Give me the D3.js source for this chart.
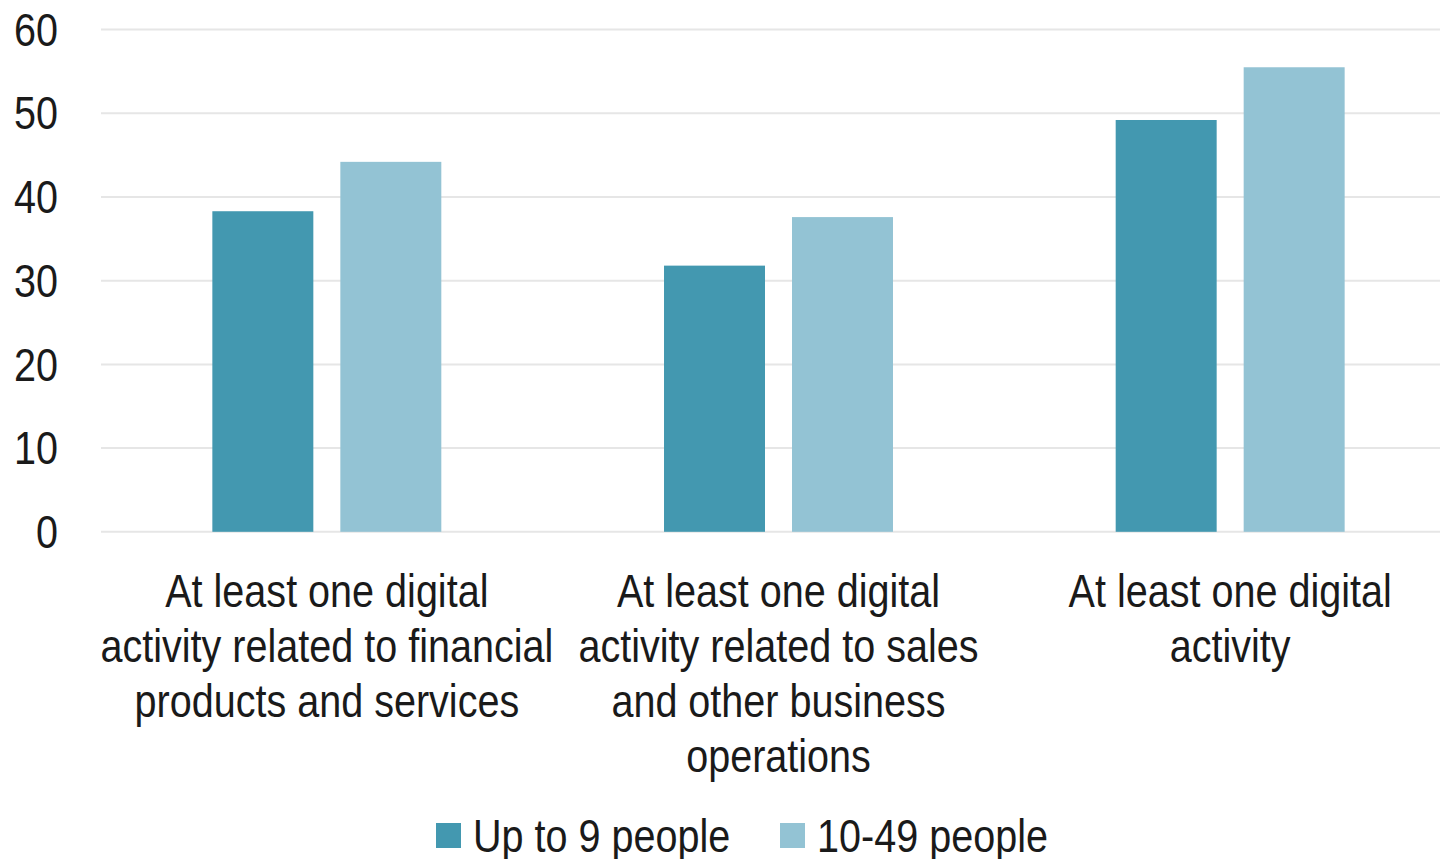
<!DOCTYPE html>
<html>
<head>
<meta charset="utf-8">
<script src="https://cdn.jsdelivr.net/npm/d3@7"></script>
<style>
  body { margin: 0; background: #fff; }
  svg text { font-family: "Liberation Sans Narrow", "Arial Narrow", "Liberation Sans", Arial, sans-serif; fill: #1a1a1a; }
</style>
</head>
<body>
<div id="chart"></div>
<script>
// data
const categories = ["financial", "sales", "any"];
const categoryLines = [
  ["At least one digital", "activity related to financial", "products and services"],
  ["At least one digital", "activity related to sales", "and other business", "operations"],
  ["At least one digital", "activity"]
];
const seriesNames = ["Up to 9 people", "10-49 people"];
const upTo9 = [38.3, 31.8, 49.2];
const from10to49 = [44.2, 37.6, 55.5];
const yTicks = [0, 10, 20, 30, 40, 50, 60];
const colours = ["#4398B0", "#93C3D4"];

const width = 1440, height = 859;
const margin = {left: 101};
const narrow = 0.86; // no narrow font installed, squeeze text horizontally

const svg = d3.select("#chart").append("svg")
    .attr("width", width)
    .attr("height", height);

// plot area runs a little past the right edge (cropped in the reference)
const x0 = d3.scaleBand().domain(categories).range([margin.left, 1456]).padding(0);
const x1 = d3.scaleBand().domain(seriesNames).range([0, x0.bandwidth()])
    .paddingInner(0.211).paddingOuter(0.87);
const y = d3.scaleLinear().domain([0, 60]).range([531.8, 29.6]);

// gridlines
svg.append("g").selectAll("line")
    .data(yTicks)
    .join("line")
    .attr("x1", margin.left)
    .attr("x2", width)
    .attr("y1", d => y(d))
    .attr("y2", d => y(d))
    .attr("stroke", "#e6e6e6")
    .attr("stroke-width", 2);

// y tick labels
svg.append("g").selectAll("text")
    .data(yTicks)
    .join("text")
    .attr("transform", d => `translate(58,${y(d)}) scale(${narrow},1)`)
    .attr("dy", "0.35em")
    .attr("text-anchor", "end")
    .style("font-size", "46px")
    .text(d => d);

// bars
const rows = categories.map((c, i) => ({cat: c, vals: [upTo9[i], from10to49[i]]}));
const groups = svg.append("g").selectAll("g")
    .data(rows)
    .join("g")
    .attr("transform", d => `translate(${x0(d.cat)},0)`);

groups.selectAll("rect")
    .data(d => d.vals.map((v, j) => ({name: seriesNames[j], value: v, j: j})))
    .join("rect")
    .attr("x", d => x1(d.name))
    .attr("width", x1.bandwidth())
    .attr("y", d => y(d.value))
    .attr("height", d => y(0) - y(d.value))
    .attr("fill", d => colours[d.j]);

// category labels
const catLabels = svg.append("g").selectAll("text")
    .data(categories)
    .join("text")
    .attr("text-anchor", "middle")
    .attr("transform", d => `translate(${x0(d) + x0.bandwidth() / 2},607) scale(${narrow},1)`)
    .style("font-size", "46px");

catLabels.selectAll("tspan")
    .data((d, i) => categoryLines[i])
    .join("tspan")
    .attr("x", 0)
    .attr("y", (d, i) => i * 55)
    .text(d => d);

// legend
const legendX = [436, 780];
const legend = svg.append("g").selectAll("g")
    .data(seriesNames)
    .join("g")
    .attr("transform", (d, i) => `translate(${legendX[i]},823)`);

legend.append("rect")
    .attr("width", 25)
    .attr("height", 25)
    .attr("fill", (d, i) => colours[i]);

legend.append("text")
    .attr("transform", `translate(37,29) scale(${narrow},1)`)
    .style("font-size", "46px")
    .text(d => d);
</script>
</body>
</html>
